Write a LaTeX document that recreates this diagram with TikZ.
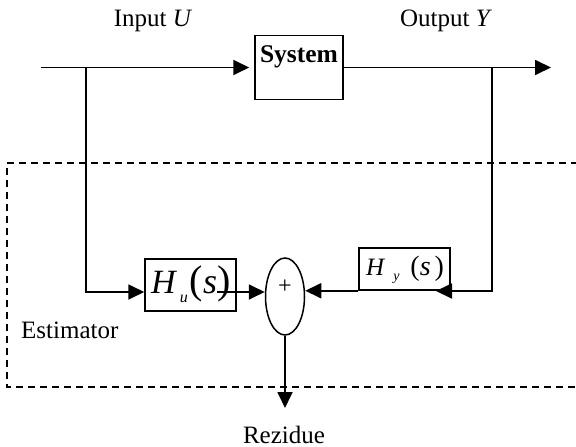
\documentclass[tikz,border=0pt]{standalone}
\usepackage{fontspec}
\setmainfont{Liberation Serif}
\usetikzlibrary{arrows.meta,shapes.geometric}
\begin{document}
\begin{tikzpicture}[x=1pt,y=-1pt,
  conn/.style={line width=1.8pt},
  arr/.style={conn,-{Triangle[length=16pt,width=15pt]}},
  blk/.style={draw,line width=1.5pt,inner sep=0pt},
  lbl/.style={font=\fontsize{25}{30}\selectfont,inner sep=0pt,anchor=base},
  dashbox/.style={line width=1.4pt,dash pattern=on 7pt off 5pt},
]
\useasboundingbox (0,0) rectangle (576,447);
% estimator frame
\draw[dashbox] (590,163) -- (7,163) -- (7,387) -- (590,387);
% labels
\node[lbl] (inlbl) at (153,27) {Input \textit{U}};
\node[lbl] (outlbl) at (446,27) {Output \textit{Y}};
\node[lbl,anchor=base west] (est) at (21,338) {Estimator};
\node[lbl] (rezlbl) at (284,443) {Rezidue};
% system
\node[blk,minimum width=88pt,minimum height=64pt] (sys) at (299,67.5) {};
\node[lbl,font=\fontsize{25.5}{30}\selectfont\bfseries] (systext) at (299,62) {System};
% filters
\node[blk,minimum width=91pt,minimum height=52pt] (hu) at (190.5,285) {};
\node[inner sep=0pt,anchor=base west] (hutext) at (151,293)
  {{\fontsize{34}{34}\selectfont\itshape H}\hspace{4pt}\raisebox{-9pt}{\fontsize{16}{16}\selectfont\itshape u}\hspace{2pt}{\fontsize{40}{40}\selectfont(}{\fontsize{36}{36}\selectfont\itshape s}{\fontsize{40}{40}\selectfont)}};
\node[blk,minimum width=91pt,minimum height=42pt] (hy) at (404.5,269) {};
\node[inner sep=0pt,anchor=base west] (hytext) at (366,275)
  {{\fontsize{25}{25}\selectfont\itshape H}\hspace{9pt}\raisebox{-5pt}{\fontsize{14}{14}\selectfont\itshape y}\hspace{11pt}{\fontsize{28}{28}\selectfont(}{\fontsize{28}{28}\selectfont\itshape s}\hspace{4pt}{\fontsize{28}{28}\selectfont)}};
% summing junction
\node[draw,ellipse,line width=1.5pt,minimum width=39pt,minimum height=77pt,inner sep=0pt] (sum) at (285,296.5) {};
\node[inner sep=0pt,font=\fontsize{24}{24}\selectfont] (plus) at (285,287) {+};
% coordinates
\coordinate (in) at (41,67.5);
\coordinate (out) at (551,67.5);
\coordinate (su) at (86,67.5);
\coordinate (sy) at (492,67.5);
\coordinate (hustart) at (217,292);
\coordinate (hyend) at (436,291);
\coordinate (rez) at (285,408);
% connectors
\draw[arr,shorten >=5pt] (in) -- (sys.west);
\draw[arr] (sys.east) -- (out);
\draw[arr] (su) |- ([yshift=-7pt]hu.west);
\draw[arr] (hustart) -- ([yshift=4.5pt]sum.west);
\draw[arr] (hy.south west) -- (sum.east |- hy.south west);
\draw[arr] (sy) |- (hyend);
\draw[arr] (sum.south) -- (rez);
\end{tikzpicture}
\end{document}
